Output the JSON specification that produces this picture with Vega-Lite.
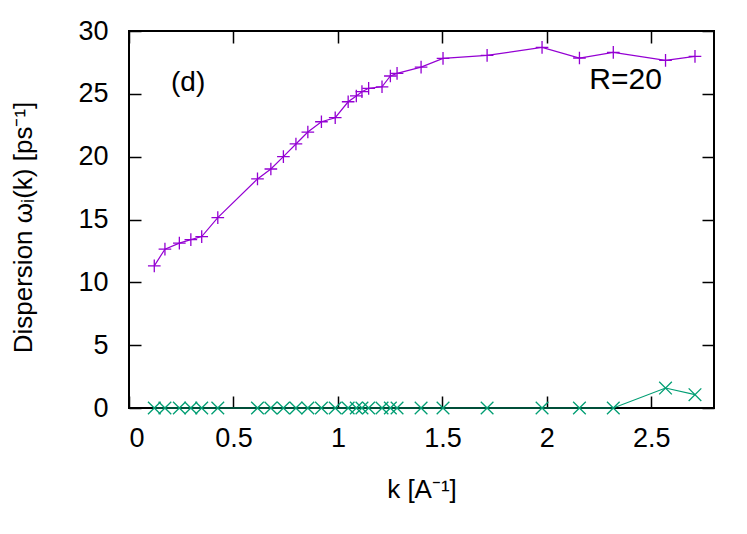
{
  "$schema": "https://vega.github.io/schema/vega-lite/v6.json",
  "width": 585,
  "height": 377,
  "autosize": {"type": "none"},
  "padding": {"left": 129, "top": 31, "right": 33, "bottom": 126},
  "background": "white",
  "config": {
    "font": "Liberation Sans",
    "view": {"stroke": "black", "strokeWidth": 2},
    "axis": {
      "domain": false,
      "grid": false,
      "tickColor": "black",
      "tickWidth": 1.5,
      "tickSize": -12,
      "labelFont": "Liberation Sans",
      "labelFontSize": 27,
      "labelColor": "black",
      "titleFont": "Liberation Sans",
      "titleFontSize": 26,
      "titleFontWeight": "normal",
      "titleColor": "black"
    }
  },
  "datasets": {
    "curves": [
      {"k": 0.121, "w": 11.31, "s": "a"},
      {"k": 0.172, "w": 12.64, "s": "a"},
      {"k": 0.241, "w": 13.12, "s": "a"},
      {"k": 0.296, "w": 13.40, "s": "a"},
      {"k": 0.348, "w": 13.64, "s": "a"},
      {"k": 0.425, "w": 15.15, "s": "a"},
      {"k": 0.615, "w": 18.23, "s": "a"},
      {"k": 0.679, "w": 19.02, "s": "a"},
      {"k": 0.739, "w": 20.00, "s": "a"},
      {"k": 0.799, "w": 21.01, "s": "a"},
      {"k": 0.856, "w": 21.96, "s": "a"},
      {"k": 0.921, "w": 22.78, "s": "a"},
      {"k": 0.987, "w": 23.10, "s": "a"},
      {"k": 1.049, "w": 24.37, "s": "a"},
      {"k": 1.088, "w": 24.83, "s": "a"},
      {"k": 1.115, "w": 25.17, "s": "a"},
      {"k": 1.147, "w": 25.44, "s": "a"},
      {"k": 1.211, "w": 25.56, "s": "a"},
      {"k": 1.251, "w": 26.42, "s": "a"},
      {"k": 1.283, "w": 26.63, "s": "a"},
      {"k": 1.398, "w": 27.13, "s": "a"},
      {"k": 1.503, "w": 27.82, "s": "a"},
      {"k": 1.714, "w": 28.06, "s": "a"},
      {"k": 1.977, "w": 28.70, "s": "a"},
      {"k": 2.156, "w": 27.85, "s": "a"},
      {"k": 2.318, "w": 28.30, "s": "a"},
      {"k": 2.568, "w": 27.66, "s": "a"},
      {"k": 2.709, "w": 27.98, "s": "a"},
      {"k": 0.121, "w": 0, "s": "b"},
      {"k": 0.172, "w": 0, "s": "b"},
      {"k": 0.241, "w": 0, "s": "b"},
      {"k": 0.296, "w": 0, "s": "b"},
      {"k": 0.348, "w": 0, "s": "b"},
      {"k": 0.425, "w": 0, "s": "b"},
      {"k": 0.615, "w": 0, "s": "b"},
      {"k": 0.679, "w": 0, "s": "b"},
      {"k": 0.739, "w": 0, "s": "b"},
      {"k": 0.799, "w": 0, "s": "b"},
      {"k": 0.856, "w": 0, "s": "b"},
      {"k": 0.921, "w": 0, "s": "b"},
      {"k": 0.987, "w": 0, "s": "b"},
      {"k": 1.049, "w": 0, "s": "b"},
      {"k": 1.088, "w": 0, "s": "b"},
      {"k": 1.115, "w": 0, "s": "b"},
      {"k": 1.147, "w": 0, "s": "b"},
      {"k": 1.211, "w": 0, "s": "b"},
      {"k": 1.251, "w": 0, "s": "b"},
      {"k": 1.283, "w": 0, "s": "b"},
      {"k": 1.398, "w": 0, "s": "b"},
      {"k": 1.503, "w": 0, "s": "b"},
      {"k": 1.714, "w": 0, "s": "b"},
      {"k": 1.977, "w": 0, "s": "b"},
      {"k": 2.156, "w": 0, "s": "b"},
      {"k": 2.318, "w": 0, "s": "b"},
      {"k": 2.568, "w": 1.59, "s": "b"},
      {"k": 2.709, "w": 1.06, "s": "b"}
    ],
    "notes": [
      {"k": 0.283, "w": 25.86, "label": "(d)", "fs": 28},
      {"k": 2.377, "w": 26.1, "label": "R=20", "fs": 30}
    ]
  },
  "layer": [
    {
      "data": {"name": "curves"},
      "mark": {"type": "line", "strokeWidth": 1.2},
      "encoding": {
        "x": {
          "field": "k", "type": "quantitative",
          "scale": {"domain": [0, 2.8], "nice": false, "zero": false},
          "axis": {"orient": "bottom", "values": [0, 0.5, 1, 1.5, 2, 2.5], "format": "~g", "labelPadding": 29,
                   "title": "k [A⁻¹]", "titleX": 292.5, "titleY": 89, "titleBaseline": "alphabetic", "titleAlign": "center"}
        },
        "y": {
          "field": "w", "type": "quantitative",
          "scale": {"domain": [0, 30], "nice": false},
          "axis": {"orient": "left", "values": [0, 5, 10, 15, 20, 25, 30], "labelPadding": 33,
                   "title": "Dispersion ωᵢ(k) [ps⁻¹]", "titleX": -98, "titleY": 196, "titleAngle": -90,
                   "titleBaseline": "alphabetic", "titleAlign": "center"}
        },
        "color": {
          "field": "s", "type": "nominal",
          "scale": {"domain": ["a", "b"], "range": ["#9400d3", "#009e73"]},
          "legend": null
        },
        "detail": {"field": "s"}
      }
    },
    {
      "data": {"name": "curves"},
      "mark": {"type": "point", "filled": false, "strokeWidth": 1.3, "opacity": 1, "size": 160},
      "encoding": {
        "x": {
          "field": "k", "type": "quantitative",
          "scale": {"domain": [0, 2.8], "nice": false, "zero": false},
          "axis": {"orient": "top", "values": [0, 0.5, 1, 1.5, 2, 2.5], "labels": false, "title": null}
        },
        "y": {
          "field": "w", "type": "quantitative",
          "scale": {"domain": [0, 30], "nice": false},
          "axis": {"orient": "right", "values": [0, 5, 10, 15, 20, 25, 30], "labels": false, "title": null}
        },
        "color": {
          "field": "s", "type": "nominal",
          "scale": {"domain": ["a", "b"], "range": ["#9400d3", "#009e73"]},
          "legend": null
        },
        "shape": {
          "field": "s", "type": "nominal",
          "scale": {"domain": ["a", "b"], "range": ["M-1,0L1,0M0,-1L0,1", "M-1,-1L1,1M-1,1L1,-1"]},
          "legend": null
        }
      }
    },
    {
      "data": {"name": "notes"},
      "mark": {"type": "text", "font": "Liberation Sans", "color": "black", "align": "center", "baseline": "middle"},
      "encoding": {
        "x": {"field": "k", "type": "quantitative", "scale": {"domain": [0, 2.8], "nice": false, "zero": false}, "axis": null},
        "y": {"field": "w", "type": "quantitative", "scale": {"domain": [0, 30], "nice": false}, "axis": null},
        "text": {"field": "label"},
        "size": {"field": "fs", "type": "quantitative", "scale": null}
      }
    }
  ],
  "resolve": {"axis": {"x": "independent", "y": "independent"}}
}
